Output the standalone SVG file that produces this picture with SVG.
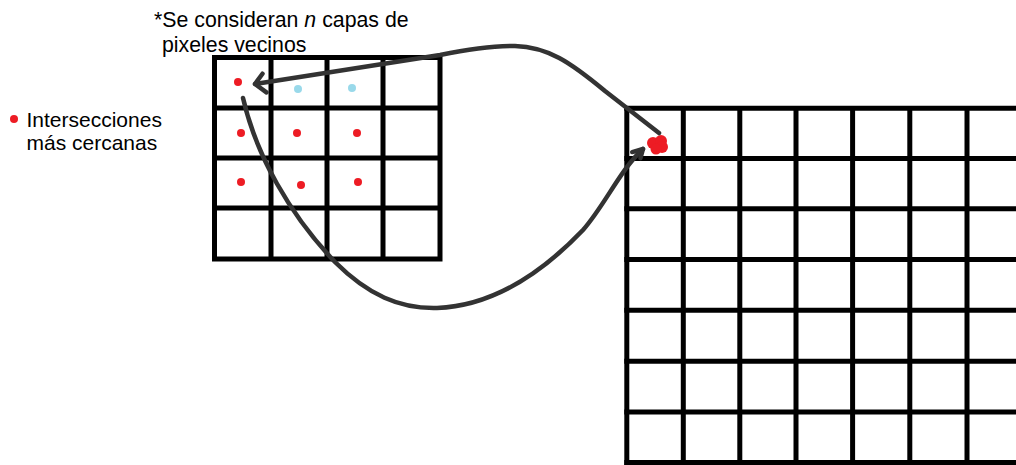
<svg xmlns="http://www.w3.org/2000/svg" width="1016" height="465" viewBox="0 0 1016 465">
  <style>
    .grid { stroke: #000; stroke-width: 5; fill: none; }
    .conn { stroke: #333; stroke-width: 4.5; fill: none; stroke-linecap: round; stroke-linejoin: round; }
    .txt { font-family: "Liberation Sans", Arial, sans-serif; fill: #000; }
    .red { fill: #ED1C24; }
    .cyan { fill: #99D9EA; }
  </style>
  <defs>
    <marker id="head" markerUnits="userSpaceOnUse" viewBox="-14 -14 18 28" refX="0" refY="0" markerWidth="18" markerHeight="28" orient="auto" overflow="visible">
      <path d="M-10,-10 L0,0 L-9,9" fill="none" stroke="#333" stroke-width="4.5" stroke-linecap="round" stroke-linejoin="round"/>
    </marker>
    <marker id="headSmall" markerUnits="userSpaceOnUse" viewBox="-14 -14 18 28" refX="0" refY="0" markerWidth="18" markerHeight="28" orient="auto" overflow="visible">
      <path d="M-10,-5 L0,0 L-8,5" fill="none" stroke="#333" stroke-width="4.5" stroke-linecap="round" stroke-linejoin="round"/>
    </marker>
  </defs>
  <rect width="1016" height="465" fill="#fff"/>

  <g id="note">
    <text class="txt" x="154" y="27" font-size="21.3">*Se consideran <tspan font-style="italic">n</tspan> capas de</text>
    <text class="txt" x="162" y="52" font-size="21.3">pixeles vecinos</text>
  </g>

  <g id="legend">
    <circle class="red" cx="14" cy="119" r="4"/>
    <text class="txt" x="26.5" y="127" font-size="21">Intersecciones</text>
    <text class="txt" x="26.5" y="150" font-size="21">más cercanas</text>
  </g>

  <g id="small-grid">
    <g class="grid">
      <rect x="214.5" y="57.5" width="225.5" height="201.5"/>
      <line x1="271" y1="57.5" x2="271" y2="259"/>
      <line x1="327" y1="57.5" x2="327" y2="259"/>
      <line x1="383" y1="57.5" x2="383" y2="259"/>
      <line x1="214.5" y1="108" x2="440" y2="108"/>
      <line x1="214.5" y1="158" x2="440" y2="158"/>
      <line x1="214.5" y1="208" x2="440" y2="208"/>
    </g>
    <circle class="red" cx="238" cy="82" r="4"/>
    <circle class="cyan" cx="298" cy="89" r="4"/>
    <circle class="cyan" cx="352" cy="88" r="4"/>
    <circle class="red" cx="241" cy="133" r="4"/>
    <circle class="red" cx="297" cy="133" r="4"/>
    <circle class="red" cx="357" cy="133" r="4"/>
    <circle class="red" cx="241" cy="182" r="4"/>
    <circle class="red" cx="301" cy="185" r="4"/>
    <circle class="red" cx="358" cy="182" r="4"/>
  </g>

  <g id="large-grid">
    <g class="grid">
      <line x1="626.8" y1="106" x2="626.8" y2="465"/>
      <line x1="683.3" y1="108.3" x2="683.3" y2="465"/>
      <line x1="739.8" y1="108.3" x2="739.8" y2="465"/>
      <line x1="796" y1="108.3" x2="796" y2="465"/>
      <line x1="852.6" y1="108.3" x2="852.6" y2="465"/>
      <line x1="909.8" y1="108.3" x2="909.8" y2="465"/>
      <line x1="967" y1="108.3" x2="967" y2="465"/>
      <line x1="624.3" y1="108.3" x2="1016" y2="108.3"/>
      <line x1="624.3" y1="158.5" x2="1016" y2="158.5"/>
      <line x1="624.3" y1="208.7" x2="1016" y2="208.7"/>
      <line x1="624.3" y1="259.5" x2="1016" y2="259.5"/>
      <line x1="624.3" y1="310.3" x2="1016" y2="310.3"/>
      <line x1="624.3" y1="361.2" x2="1016" y2="361.2"/>
      <line x1="624.3" y1="412" x2="1016" y2="412"/>
      <line x1="624.3" y1="462.5" x2="1016" y2="462.5"/>
    </g>
    <g class="red">
      <circle cx="653" cy="143" r="6"/>
      <circle cx="661" cy="141" r="6"/>
      <circle cx="662" cy="147" r="6"/>
      <circle cx="656" cy="149" r="5.5"/>
    </g>
  </g>

  <g id="connectors">
    <path class="conn" marker-end="url(#head)" d="M659,133 L605,91 C570,62 548,47 515,46 C490,46 465,50 440,55 L255,84"/>
    <path class="conn" marker-end="url(#headSmall)" d="M243,98 C256,155 290,215 335,262 C368,295 400,309 437,308 C490,306 540,275 583,230 C605,205 620,170 643,149"/>
  </g>
</svg>
